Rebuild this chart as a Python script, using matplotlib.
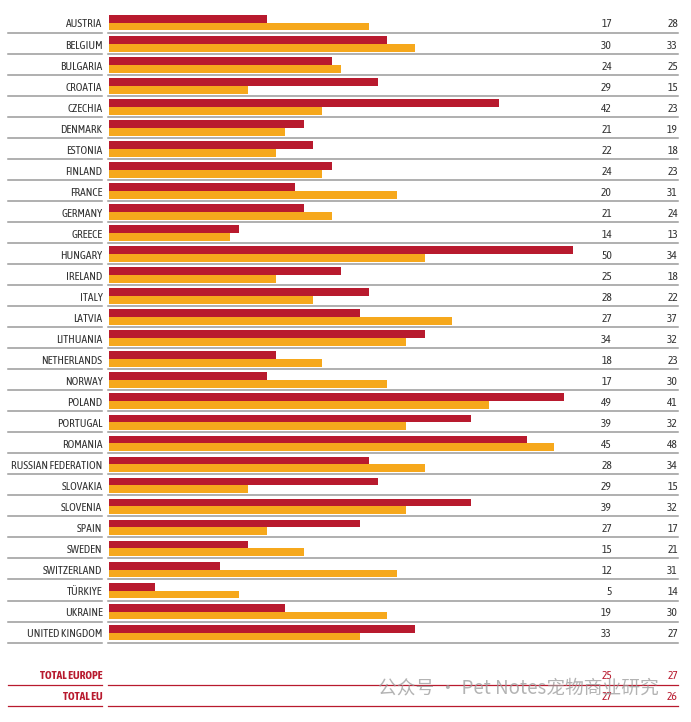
import matplotlib.pyplot as plt
from matplotlib.font_manager import fontManager

countries = ["AUSTRIA", "BELGIUM", "BULGARIA", "CROATIA", "CZECHIA", "DENMARK",
             "ESTONIA", "FINLAND", "FRANCE", "GERMANY", "GREECE", "HUNGARY",
             "IRELAND", "ITALY", "LATVIA", "LITHUANIA", "NETHERLANDS", "NORWAY",
             "POLAND", "PORTUGAL", "ROMANIA", "RUSSIAN FEDERATION", "SLOVAKIA",
             "SLOVENIA", "SPAIN", "SWEDEN", "SWITZERLAND", "TÜRKIYE", "UKRAINE",
             "UNITED KINGDOM"]
red_vals = [17, 30, 24, 29, 42, 21, 22, 24, 20, 21, 14, 50, 25, 28, 27, 34, 18,
            17, 49, 39, 45, 28, 29, 39, 27, 15, 12, 5, 19, 33]
orange_vals = [28, 33, 25, 15, 23, 19, 18, 23, 31, 24, 13, 34, 18, 22, 37, 32,
               23, 30, 41, 32, 48, 34, 15, 32, 17, 21, 31, 14, 30, 27]
total_labels = ["TOTAL EUROPE", "TOTAL EU"]
total_red = [25, 27]
total_orange = [27, 26]

RED = "#b81a2e"
ORANGE = "#f6a81c"
GREY = "#9a9a9a"
TXT = "#333333"

installed = {f.name for f in fontManager.ttflist}
narrow = "Asap Condensed" if "Asap Condensed" in installed else "DejaVu Sans"
fs = 8.2

fig = plt.figure(figsize=(6.91, 7.22), dpi=100)
# axes: x from bar origin (px 109) to px 678, 9.28 px per unit
ax = fig.add_axes([109 / 691, 1 - 708.3 / 722, (678 - 109) / 691, (708.3 - 10.1) / 722])
xmax = (678 - 109) / 9.28
ax.set_xlim(0, xmax)
ax.set_ylim(32.6, -0.6)
ax.axis("off")

lx0 = (8 - 109) / 9.28
lx1 = (102 - 109) / 9.28
rx0 = (108 - 109) / 9.28
col1 = (612 - 109) / 9.28
col2 = xmax

bh = 0.37
rows = list(range(len(countries)))
ax.barh([r - bh / 2 for r in rows], red_vals, height=bh, color=RED, align="center")
ax.barh([r + bh / 2 for r in rows], orange_vals, height=bh, color=ORANGE, align="center")

for r, name in enumerate(countries):
    ax.text(lx1 + 0.05, r + 0.06, name, ha="right", va="center", fontsize=fs,
            family=narrow, color=TXT, clip_on=False)
    ax.text(col1, r + 0.06, str(red_vals[r]), ha="right", va="center", fontsize=fs,
            family=narrow, color=TXT)
    ax.text(col2, r + 0.06, str(orange_vals[r]), ha="right", va="center", fontsize=fs,
            family=narrow, color=TXT)
    ax.plot([lx0, lx1], [r + 0.475] * 2, color=GREY, lw=1.1, clip_on=False)
    ax.plot([rx0, xmax], [r + 0.475] * 2, color=GREY, lw=1.1, clip_on=False)

start = len(countries) + 1
for k, name in enumerate(total_labels):
    r = start + k
    ax.text(lx1 + 0.05, r + 0.06, name, ha="right", va="center", fontsize=fs,
            family=narrow, color=RED, fontweight="bold", clip_on=False)
    ax.text(col1, r + 0.06, str(total_red[k]), ha="right", va="center", fontsize=fs,
            family=narrow, color=RED)
    ax.text(col2, r + 0.06, str(total_orange[k]), ha="right", va="center", fontsize=fs,
            family=narrow, color=RED)
    ax.plot([lx0, lx1], [r + 0.475] * 2, color=RED, lw=0.9, clip_on=False)
    ax.plot([rx0, xmax], [r + 0.475] * 2, color=RED, lw=0.9, clip_on=False)

# watermark
fig.text(378 / 691, 1 - 688 / 722, "公众号 · Pet Notes宠物商业研究", fontsize=13.5,
         family=["Noto Sans CJK SC", "DejaVu Sans"], color="#9a9a9a", alpha=0.75,
         ha="left", va="center")

fig.savefig("out.png", dpi=100)
